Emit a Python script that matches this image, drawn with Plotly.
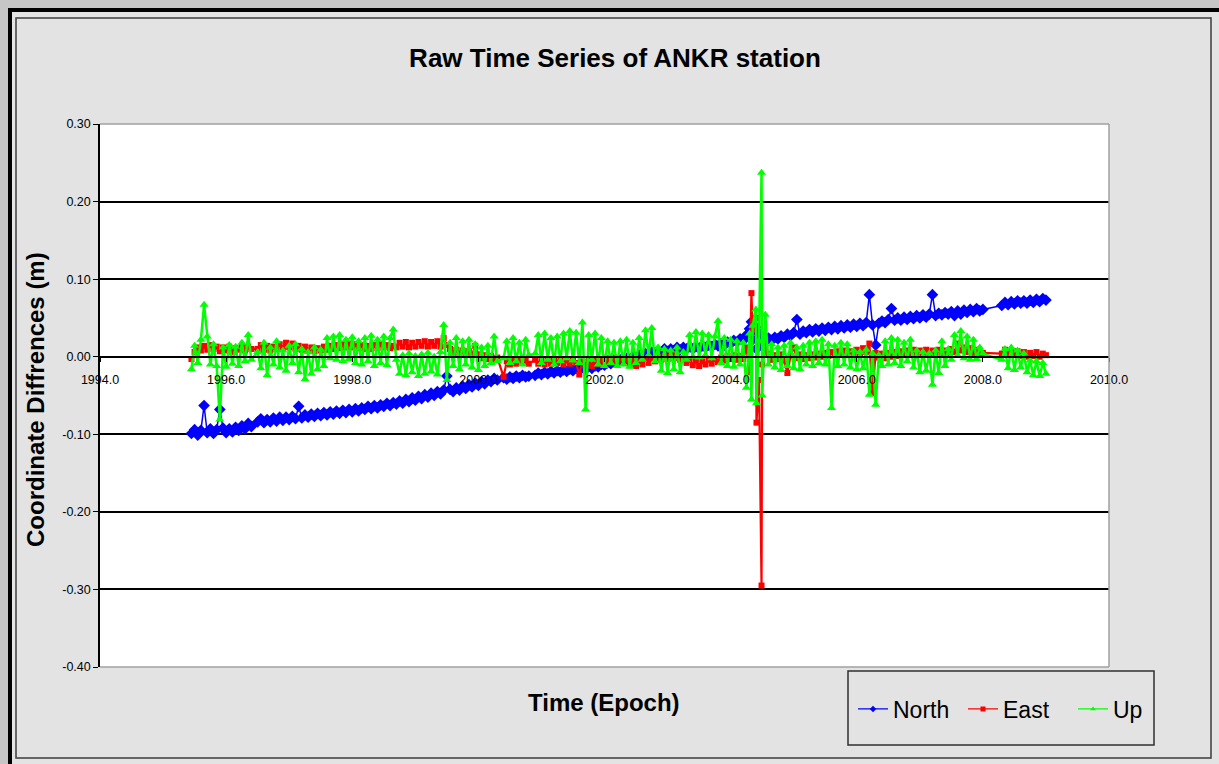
import plotly.graph_objects as go

# ---------------- data ----------------
X_TICKS = [1994, 1996, 1998, 2000, 2002, 2004, 2006, 2008, 2010]
Y_TICKS = [-0.40, -0.30, -0.20, -0.10, 0.00, 0.10, 0.20, 0.30]
Y_TICK_TEXT = ['-0.40', '-0.30', '-0.20', '-0.10', '0.00', '0.10', '0.20', '0.30']
SERIES_NAMES = ['North', 'East', 'Up']

EP_A = [1995.45, 1995.50, 1995.55, 1995.60, 1995.65, 1995.70, 1995.75, 1995.80, 1995.85, 1995.90,
        1995.95, 1996.00, 1996.05, 1996.10, 1996.15, 1996.20, 1996.25, 1996.30, 1996.35, 1996.40]
N_A = [-0.099, -0.094, -0.101, -0.095, -0.063, -0.098, -0.093, -0.099, -0.094, -0.068,
       -0.092, -0.098, -0.093, -0.097, -0.091, -0.095, -0.089, -0.093, -0.086, -0.090]
E_A = [-0.003, 0.006, 0.012, 0.008, 0.014, 0.009, 0.015, 0.010, 0.013, 0.007,
       0.012, 0.008, 0.013, 0.006, 0.011, 0.009, 0.014, 0.008, 0.013, 0.010]
U_A = [-0.016, 0.014, -0.008, 0.022, 0.067, 0.026, -0.010, 0.016, -0.012, -0.081,
       0.012, -0.013, 0.015, -0.009, 0.013, -0.012, 0.018, -0.006, 0.028, -0.004]

EP_B1 = [1996.50, 1996.55, 1996.60, 1996.65, 1996.70, 1996.75, 1996.80, 1996.85, 1996.90, 1996.95,
         1997.00, 1997.05, 1997.10, 1997.15, 1997.20, 1997.25, 1997.30, 1997.35, 1997.40, 1997.45,
         1997.50, 1997.55, 1997.60, 1997.65, 1997.70, 1997.75, 1997.80, 1997.85, 1997.90, 1997.95, 1998.00]
N_B1 = [-0.084, -0.080, -0.085, -0.081, -0.084, -0.079, -0.083, -0.078, -0.082, -0.078,
        -0.081, -0.077, -0.080, -0.064, -0.079, -0.075, -0.078, -0.074, -0.077, -0.073,
        -0.076, -0.072, -0.075, -0.071, -0.074, -0.070, -0.073, -0.069, -0.072, -0.068, -0.071]
E_B1 = [0.010, 0.015, 0.009, 0.014, 0.008, 0.013, 0.010, 0.016, 0.011, 0.018,
        0.012, 0.017, 0.010, 0.014, 0.009, 0.013, 0.008, 0.012, 0.007, 0.011,
        0.008, 0.013, 0.009, 0.014, 0.010, 0.015, 0.011, 0.016, 0.012, 0.017, 0.012]
U_B1 = [0.006, -0.015, 0.018, -0.024, 0.012, -0.010, 0.020, -0.014, 0.008, -0.018,
        0.014, -0.008, 0.016, -0.020, 0.010, -0.029, 0.006, -0.022, 0.012, -0.016,
        0.009, -0.012, 0.024, -0.002, 0.026, -0.004, 0.028, -0.006, 0.022, -0.003, 0.025]

EP_B2 = [1998.05, 1998.10, 1998.15, 1998.20, 1998.25, 1998.30, 1998.35, 1998.40, 1998.45, 1998.50,
         1998.55, 1998.60, 1998.65, 1998.70, 1998.75, 1998.80, 1998.85, 1998.90, 1998.95, 1999.00,
         1999.05, 1999.10, 1999.15, 1999.20, 1999.25, 1999.30, 1999.35, 1999.40, 1999.45, 1999.50]
N_B2 = [-0.067, -0.070, -0.066, -0.068, -0.064, -0.067, -0.063, -0.066, -0.062, -0.064,
        -0.060, -0.063, -0.059, -0.061, -0.057, -0.060, -0.055, -0.058, -0.053, -0.056,
        -0.051, -0.054, -0.049, -0.052, -0.047, -0.050, -0.045, -0.048, -0.043, -0.025]
E_B2 = [0.016, 0.011, 0.015, 0.010, 0.014, 0.010, 0.015, 0.011, 0.016, 0.012,
        0.015, 0.011, 0.014, 0.012, 0.018, 0.013, 0.019, 0.012, 0.018, 0.013,
        0.019, 0.014, 0.020, 0.013, 0.019, 0.014, 0.020, 0.013, 0.024, 0.015]
U_B2 = [-0.008, 0.020, -0.010, 0.024, -0.006, 0.027, -0.012, 0.022, -0.008, 0.026,
        -0.011, 0.024, 0.035, -0.004, -0.022, 0.002, -0.024, 0.004, -0.020, 0.001,
        -0.025, 0.003, -0.022, 0.005, -0.019, 0.000, -0.023, 0.006, 0.041, -0.030]

EP_B3 = [1999.55, 1999.60, 1999.65, 1999.70, 1999.75, 1999.80, 1999.85, 1999.90, 1999.95, 2000.00,
         2000.05, 2000.10, 2000.15, 2000.20, 2000.25, 2000.30]
N_B3 = [-0.042, -0.045, -0.040, -0.043, -0.038, -0.041, -0.036, -0.039, -0.034, -0.037,
        -0.032, -0.035, -0.030, -0.032, -0.028, -0.030]
E_B3 = [0.010, 0.005, 0.009, 0.004, 0.008, 0.003, 0.007, 0.002, 0.014, 0.003,
        -0.002, 0.002, -0.003, 0.001, -0.004, -0.001]
U_B3 = [0.018, -0.012, 0.024, -0.016, 0.020, -0.010, 0.022, -0.014, 0.016, -0.017,
        0.012, -0.012, 0.014, -0.008, 0.026, -0.006]

EP_C = [2000.40, 2000.45, 2000.50, 2000.55, 2000.60, 2000.65, 2000.70, 2000.75, 2000.80]
N_C = [-0.027, -0.029, -0.026, -0.028, -0.025, -0.027, -0.024, -0.026, -0.025]
E_C = [-0.026, -0.006, -0.010, -0.005, -0.009, -0.004, -0.008, -0.005, -0.009]
U_C = [-0.002, 0.020, -0.008, 0.024, -0.006, 0.018, -0.010, 0.022, 0.002]

EP_D1 = [2000.90, 2000.95, 2001.00, 2001.05, 2001.10, 2001.15, 2001.20, 2001.25, 2001.30, 2001.35,
         2001.40, 2001.45, 2001.50, 2001.55, 2001.60, 2001.65, 2001.70, 2001.75, 2001.80, 2001.85,
         2001.90, 2001.95]
N_D1 = [-0.024, -0.021, -0.023, -0.020, -0.022, -0.019, -0.021, -0.018, -0.020, -0.017,
        -0.019, -0.016, -0.018, -0.015, -0.017, -0.014, -0.016, -0.013, -0.015, -0.012,
        -0.013, -0.010]
E_D1 = [-0.004, -0.009, -0.005, -0.010, -0.004, -0.009, -0.003, -0.008, -0.004, -0.010,
        -0.005, -0.009, -0.003, -0.008, -0.023, -0.006, -0.011, -0.004, -0.012, -0.005,
        -0.010, -0.003]
U_D1 = [0.004, 0.028, -0.008, 0.030, -0.004, 0.024, -0.010, 0.026, -0.006, 0.030,
        -0.002, 0.033, -0.005, 0.031, -0.008, 0.044, -0.068, 0.028, -0.004, 0.030,
        -0.010, 0.024]

EP_D2 = [2002.00, 2002.05, 2002.10, 2002.15, 2002.20, 2002.25, 2002.30, 2002.35, 2002.40, 2002.45,
         2002.50, 2002.55, 2002.60, 2002.65, 2002.70, 2002.75, 2002.80, 2002.85, 2002.90, 2002.95]
N_D2 = [-0.011, -0.008, -0.009, -0.006, -0.007, -0.004, -0.005, -0.002, -0.003, 0.000,
        -0.001, 0.002, 0.001, 0.004, 0.003, 0.006, 0.005, 0.008, 0.006, 0.010]
E_D2 = [-0.008, -0.002, -0.007, -0.001, -0.006, -0.002, -0.008, -0.004, -0.011, -0.005,
        -0.012, -0.006, -0.010, -0.003, -0.008, -0.002, -0.006, 0.000, -0.004, 0.001]
U_D2 = [-0.012, 0.020, -0.008, 0.018, -0.012, 0.020, -0.010, 0.022, -0.013, 0.018,
        -0.008, 0.024, -0.004, 0.034, 0.002, 0.037, -0.006, 0.012, -0.018, 0.010]

EP_D3 = [2003.00, 2003.05, 2003.10, 2003.15, 2003.20, 2003.25, 2003.30, 2003.35, 2003.40, 2003.45,
         2003.50, 2003.55, 2003.60, 2003.65, 2003.70, 2003.75, 2003.80, 2003.85, 2003.90, 2003.95]
N_D3 = [0.007, 0.010, 0.008, 0.012, 0.009, 0.012, 0.010, 0.013, 0.010, 0.013,
        0.011, 0.014, 0.012, 0.015, 0.013, 0.016, 0.014, 0.017, 0.015, 0.019]
E_D3 = [-0.003, 0.002, -0.002, 0.003, -0.004, -0.002, -0.008, -0.004, -0.011, -0.005,
        -0.012, -0.006, -0.010, -0.004, -0.009, -0.003, -0.007, -0.001, -0.005, 0.001]
U_D3 = [-0.021, 0.008, -0.016, 0.012, -0.020, 0.006, -0.004, 0.028, 0.000, 0.032,
        -0.001, 0.030, 0.002, 0.028, -0.002, 0.026, 0.046, -0.008, 0.024, -0.012]

EP_D4 = [2004.00, 2004.05, 2004.10, 2004.15, 2004.20, 2004.25, 2004.30, 2004.33, 2004.35, 2004.40,
         2004.41, 2004.45, 2004.49, 2004.50, 2004.55, 2004.60, 2004.65, 2004.70, 2004.75, 2004.80,
         2004.85, 2004.90, 2004.95]
N_D4 = [0.017, 0.021, 0.019, 0.023, 0.021, 0.028, 0.036, 0.045, 0.022, 0.038,
        0.010, 0.030, 0.015, 0.026, 0.020, 0.024, 0.021, 0.025, 0.023, 0.027,
        0.025, 0.029, 0.027]
E_D4 = [-0.003, 0.002, -0.004, 0.001, -0.003, 0.012, -0.020, 0.082, 0.035, 0.050,
        -0.085, -0.030, -0.295, -0.010, 0.010, 0.004, -0.004, 0.002, -0.003, 0.003,
        -0.005, -0.021, 0.001]
U_D4 = [0.022, -0.013, 0.020, -0.010, 0.018, -0.040, 0.030, -0.055, 0.040, 0.061,
        -0.060, 0.020, 0.237, -0.050, 0.054, -0.010, 0.016, -0.014, 0.012, -0.017,
        0.014, -0.012, 0.018]

EP_D5 = [2005.00, 2005.05, 2005.10, 2005.15, 2005.20, 2005.25, 2005.30, 2005.35, 2005.40, 2005.45,
         2005.50, 2005.55, 2005.60, 2005.65, 2005.70, 2005.75, 2005.80, 2005.85, 2005.90, 2005.95]
N_D5 = [0.031, 0.048, 0.029, 0.033, 0.031, 0.035, 0.032, 0.036, 0.033, 0.037,
        0.034, 0.038, 0.035, 0.039, 0.036, 0.040, 0.037, 0.041, 0.038, 0.042]
E_D5 = [0.012, -0.002, 0.003, -0.003, 0.002, -0.002, 0.003, -0.001, 0.004, 0.000,
        0.005, 0.001, 0.006, 0.002, 0.007, 0.003, 0.008, 0.002, 0.007, 0.003]
U_D5 = [-0.015, 0.012, -0.016, 0.014, -0.010, 0.018, -0.012, 0.020, -0.008, 0.022,
        -0.010, 0.016, -0.066, 0.014, -0.012, 0.018, -0.010, 0.016, -0.014, 0.008]

EP_D6 = [2006.00, 2006.05, 2006.10, 2006.15, 2006.20, 2006.25, 2006.30, 2006.35, 2006.40, 2006.45,
         2006.50, 2006.55, 2006.60, 2006.65, 2006.70, 2006.75, 2006.80, 2006.85, 2006.90, 2006.95]
N_D6 = [0.039, 0.043, 0.040, 0.044, 0.080, 0.041, 0.015, 0.043, 0.046, 0.044,
        0.048, 0.062, 0.047, 0.050, 0.047, 0.051, 0.048, 0.052, 0.049, 0.053]
E_D6 = [0.009, 0.004, 0.011, 0.006, 0.017, -0.047, 0.005, -0.001, 0.004, -0.002,
        0.005, 0.000, 0.006, 0.001, 0.007, 0.002, 0.008, 0.003, 0.009, 0.004]
U_D6 = [-0.016, 0.006, -0.015, 0.009, -0.049, 0.004, -0.062, 0.002, -0.012, 0.020,
        -0.010, 0.024, -0.008, 0.022, -0.012, 0.018, -0.006, 0.022, -0.014, 0.008]

EP_D7 = [2007.00, 2007.05, 2007.10, 2007.15, 2007.20, 2007.25, 2007.30, 2007.35, 2007.40, 2007.45,
         2007.50, 2007.55, 2007.60, 2007.65, 2007.70, 2007.75, 2007.80, 2007.85, 2007.90, 2007.95, 2008.00]
N_D7 = [0.050, 0.054, 0.051, 0.055, 0.080, 0.053, 0.056, 0.054, 0.057, 0.055,
        0.058, 0.053, 0.059, 0.055, 0.060, 0.057, 0.061, 0.058, 0.062, 0.059, 0.061]
E_D7 = [0.008, 0.003, 0.009, 0.002, 0.008, 0.003, 0.009, 0.004, 0.008, 0.002,
        0.010, 0.006, 0.017, 0.008, 0.012, 0.006, 0.011, 0.005, 0.009, 0.004, 0.005]
U_D7 = [-0.020, 0.006, -0.018, 0.004, -0.036, 0.008, -0.021, 0.020, -0.012, 0.010,
        -0.004, 0.028, 0.002, 0.033, -0.002, 0.026, -0.004, 0.022, -0.003, 0.012, 0.004]

EP_E = [2008.30, 2008.35, 2008.40, 2008.45, 2008.50, 2008.55, 2008.60, 2008.65, 2008.70, 2008.75,
        2008.80, 2008.85, 2008.90, 2008.95, 2009.00]
N_E = [0.066, 0.070, 0.067, 0.071, 0.068, 0.072, 0.069, 0.072, 0.069, 0.073,
       0.070, 0.074, 0.071, 0.075, 0.073]
E_E = [0.004, 0.009, 0.003, 0.008, 0.002, 0.007, 0.001, 0.006, 0.000, 0.005,
       0.001, 0.006, 0.000, 0.004, 0.002]
U_E = [-0.004, 0.010, -0.015, 0.012, -0.017, 0.008, -0.014, 0.004, -0.020, -0.005,
       -0.024, -0.006, -0.025, -0.008, -0.022]


def join(*parts):
    out = []
    for p in parts:
        out.extend(p)
    return out


EPOCH = join(EP_A, EP_B1, EP_B2, EP_B3, EP_C, EP_D1, EP_D2, EP_D3, EP_D4, EP_D5, EP_D6, EP_D7, EP_E)
NORTH = join(N_A, N_B1, N_B2, N_B3, N_C, N_D1, N_D2, N_D3, N_D4, N_D5, N_D6, N_D7, N_E)
EAST = join(E_A, E_B1, E_B2, E_B3, E_C, E_D1, E_D2, E_D3, E_D4, E_D5, E_D6, E_D7, E_E)
UP = join(U_A, U_B1, U_B2, U_B3, U_C, U_D1, U_D2, U_D3, U_D4, U_D5, U_D6, U_D7, U_E)
assert len(EPOCH) == len(NORTH) == len(EAST) == len(UP), (len(EPOCH), len(NORTH), len(EAST), len(UP))

# ---------------- layout geometry (pixels) ----------------
W, H = 1219, 764
ML, MR, MT, MB = 100, 110, 124, 97
PW = W - ML - MR
PH = H - MT - MB


def fx(p):
    return (p - ML) / PW


def fy(p):
    return (H - MB - p) / PH


FONT = 'Liberation Sans, Arial, sans-serif'
COLORS = ['#0000FF', '#FF0000', '#00FF00']
SYMBOLS = ['diamond', 'square', 'triangle-up']
PLOT_SIZES = [9, 6, 8]
LINE_W = [1.5, 2.2, 2.5]

fig = go.Figure()
for name, vals, col, sym, msz, lw in zip(SERIES_NAMES, [NORTH, EAST, UP], COLORS, SYMBOLS, PLOT_SIZES, LINE_W):
    fig.add_trace(go.Scatter(x=EPOCH, y=vals, name=name, mode='lines+markers', showlegend=False,
                             line=dict(color=col, width=lw),
                             marker=dict(symbol=sym, size=msz, color=col, line=dict(width=0))))
# legend entries (small markers like the original legend)
for name, col, sym in zip(SERIES_NAMES, COLORS, SYMBOLS):
    fig.add_trace(go.Scatter(x=[None], y=[None], name=name, mode='lines+markers',
                             line=dict(color=col, width=1.2),
                             marker=dict(symbol=sym, size=5, color=col, line=dict(width=0))))

shapes = [
    dict(type='rect', xref='paper', yref='paper', x0=fx(0), x1=fx(W + 20), y0=fy(0), y1=fy(8),
         fillcolor='#C6C6C6', line=dict(width=0), layer='below'),
    dict(type='rect', xref='paper', yref='paper', x0=fx(0), x1=fx(8), y0=fy(0), y1=fy(H + 20),
         fillcolor='#C6C6C6', line=dict(width=0), layer='below'),
    dict(type='rect', xref='paper', yref='paper', x0=fx(10), x1=fx(W + 30), y0=fy(10), y1=fy(H + 30),
         line=dict(color='#000000', width=4), layer='below'),
    dict(type='rect', xref='paper', yref='paper', x0=fx(16), x1=fx(1211), y0=fy(18), y1=fy(758),
         line=dict(color='#3C3C3C', width=1.5), layer='below'),
    dict(type='line', xref='paper', yref='paper', x0=0, x1=1, y0=1, y1=1,
         line=dict(color='#A0A0A0', width=1.5), layer='above'),
    dict(type='line', xref='paper', yref='paper', x0=1, x1=1, y0=0, y1=1,
         line=dict(color='#A0A0A0', width=1.5), layer='above'),
    dict(type='line', xref='paper', yref='paper', x0=0, x1=1, y0=0, y1=0,
         line=dict(color='#A0A0A0', width=1.5), layer='above'),
    dict(type='rect', xref='paper', yref='paper', x0=fx(848), x1=fx(1154), y0=fy(671), y1=fy(745),
         line=dict(color='#303030', width=1.5), layer='above'),
]

fig.update_layout(
    width=W, height=H,
    margin=dict(l=ML, r=MR, t=MT, b=MB, pad=0),
    paper_bgcolor='#E3E3E3',
    plot_bgcolor='#FFFFFF',
    font=dict(family=FONT, color='#000000'),
    title=dict(text='<b>Raw Time Series of ANKR station</b>', xref='container', yref='container',
               x=615 / W, xanchor='center', y=1 - 58 / H, yanchor='middle',
               font=dict(size=26, family=FONT, color='#000000')),
    xaxis=dict(range=[1994, 2010], tickmode='array', tickvals=X_TICKS, tickformat='.1f',
               anchor='free', position=fy(357), showgrid=False, zeroline=False,
               showline=True, linecolor='#000000', linewidth=1.5,
               ticks='outside', ticklen=4, tickwidth=1, tickcolor='#000000',
               tickfont=dict(size=12.5, family=FONT, color='#000000'), ticklabelstandoff=7),
    yaxis=dict(range=[-0.40, 0.30], tickmode='array', tickvals=Y_TICKS, ticktext=Y_TICK_TEXT,
               showgrid=True, gridcolor='#000000', gridwidth=1.5, zeroline=False,
               showline=True, linecolor='#000000', linewidth=1.5,
               ticks='outside', ticklen=5, tickwidth=1, tickcolor='#000000',
               tickfont=dict(size=12.5, family=FONT, color='#000000')),
    showlegend=True,
    legend=dict(orientation='h', x=fx(853), y=fy(709), xanchor='left', yanchor='middle',
                bgcolor='rgba(0,0,0,0)', borderwidth=0, entrywidth=65, entrywidthmode='pixels',
                font=dict(size=23, family=FONT, color='#000000'), traceorder='normal'),
    shapes=shapes,
    annotations=[
        dict(text='<b>Coordinate Diffrences (m)</b>', xref='paper', yref='paper',
             x=fx(35), y=fy(400), xanchor='center', yanchor='middle', textangle=-90,
             showarrow=False, font=dict(size=24, family=FONT, color='#000000')),
        dict(text='<b>Time (Epoch)</b>', xref='paper', yref='paper',
             x=fx(604), y=fy(702), xanchor='center', yanchor='middle',
             showarrow=False, font=dict(size=24, family=FONT, color='#000000')),
    ],
)

fig.write_html('out.html')
